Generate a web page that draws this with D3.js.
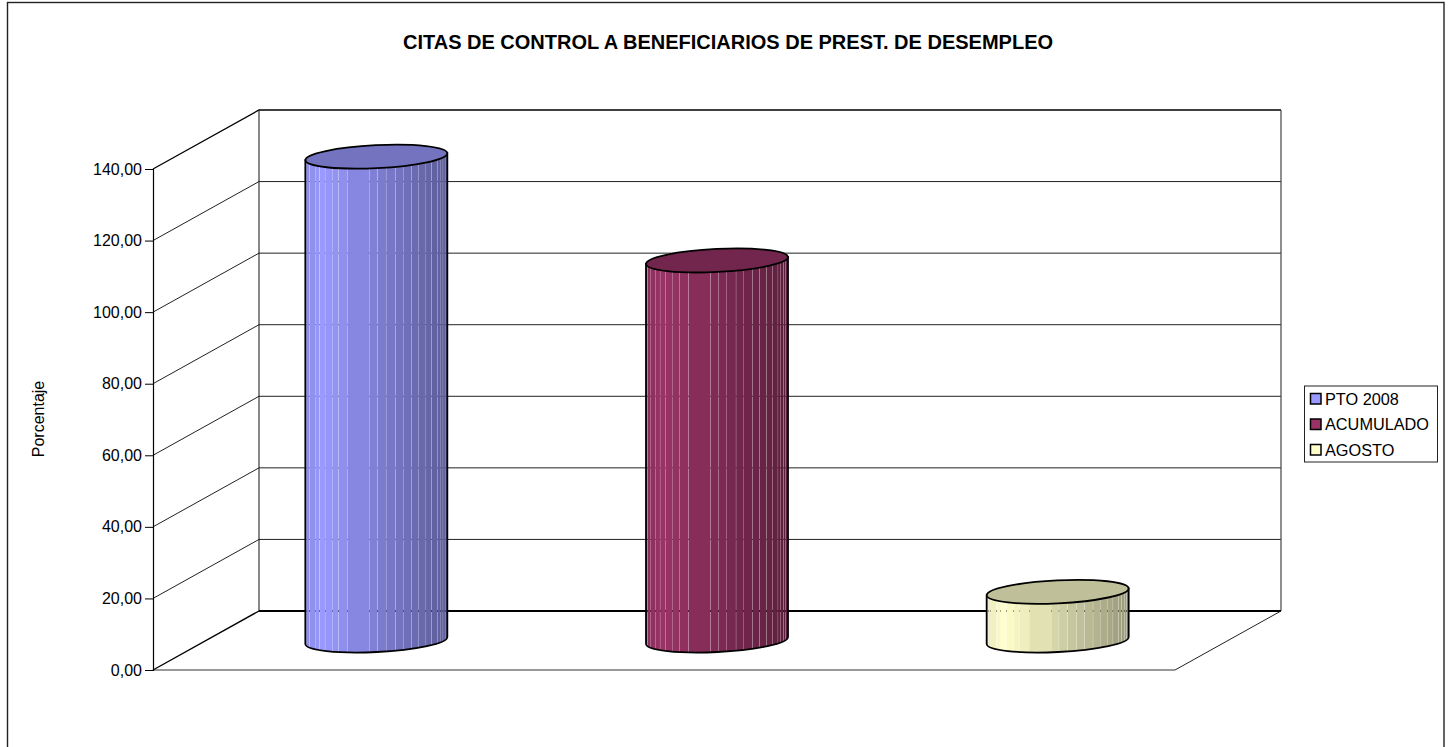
<!DOCTYPE html>
<html>
<head>
<meta charset="utf-8">
<script src="https://cdn.jsdelivr.net/npm/d3@7"></script>
<style>
  html, body { margin: 0; padding: 0; background: #fff; overflow: hidden; }
  svg { display: block; font-family: "Liberation Sans", Arial, sans-serif; }
</style>
</head>
<body>
<script>
const seriesNames = ["PTO 2008", "ACUMULADO", "AGOSTO"];
const seriesValues = [135.2, 106.2, 13.6];
const seriesColors = ["#9999ff", "#993366", "#ffffcc"];
const yTicks = [0, 20, 40, 60, 80, 100, 120, 140];
const titleText = "CITAS DE CONTROL A BENEFICIARIOS DE PREST. DE DESEMPLEO";
const yTitle = "Porcentaje";

// where the shading bands of a cylinder change, as a fraction of its width
const bandStops = [0, .012, .03, .07, .1, .14, .19, .235, .3, .455, .51, .57, .635, .69, .75, .8, .85, .89, .93, .95, .97, .985, 1];

const width = 1454, height = 747;
const plotLeft = 153, plotRight = 1175, plotBottom = 670, plotTop = 169;
const depthX = 106, depthY = -59;
const tilt = -2.8, cylinderWidth = 142, ellipseRy = 11.5;

const y = d3.scaleLinear().domain([0, 140]).range([plotBottom, plotTop]);
const x = d3.scaleBand().domain(seriesNames).range([plotLeft, plotRight]);
const shade = d3.scaleLinear().domain([0, .12, 1]).range([.9, 1, .6]);
const darken = (c, k) => {
  const r = d3.rgb(c);
  return d3.rgb(r.r * k, r.g * k, r.b * k).formatHex();
};

const svg = d3.select("body").append("svg").attr("width", width).attr("height", height);

// outer frame, its bottom edge falls outside the picture
svg.append("rect")
  .attr("x", 7.5).attr("y", 2.5)
  .attr("width", 1436.5).attr("height", height + 10)
  .attr("fill", "#fff").attr("stroke", "#222").attr("stroke-width", 1.4);

svg.append("text")
  .attr("x", 728).attr("y", 49)
  .attr("text-anchor", "middle")
  .attr("font-size", 20).attr("font-weight", "bold")
  .text(titleText);

/******************** Walls ********************/
const walls = svg.append("g").attr("fill", "none");

yTicks.slice(1).forEach((t) => {
  const top = t === 140;
  walls.append("path")
    .attr("d", d3.line()([
      [plotLeft, y(t)],
      [plotLeft + depthX, y(t) + depthY],
      [plotRight + depthX, y(t) + depthY],
    ]))
    .attr("stroke", top ? "#000" : "#222")
    .attr("stroke-width", top ? 1.3 : 1);
});

// left and right edges of the back wall
walls.append("line")
  .attr("x1", plotLeft + depthX).attr("x2", plotLeft + depthX)
  .attr("y1", y(140) + depthY).attr("y2", y(0) + depthY)
  .attr("stroke", "#111");
walls.append("line")
  .attr("x1", plotRight + depthX).attr("x2", plotRight + depthX)
  .attr("y1", y(140) + depthY).attr("y2", y(0) + depthY)
  .attr("stroke", "#444").attr("stroke-width", 1.2);

// floor
walls.append("line")
  .attr("x1", plotLeft + depthX).attr("x2", plotRight + depthX)
  .attr("y1", y(0) + depthY).attr("y2", y(0) + depthY)
  .attr("stroke", "#000").attr("stroke-width", 2);
walls.append("line")
  .attr("x1", plotLeft).attr("x2", plotLeft + depthX)
  .attr("y1", y(0)).attr("y2", y(0) + depthY)
  .attr("stroke", "#000").attr("stroke-width", 1.4);
walls.append("line")
  .attr("x1", plotRight).attr("x2", plotRight + depthX)
  .attr("y1", y(0)).attr("y2", y(0) + depthY)
  .attr("stroke", "#222");
walls.append("line")
  .attr("x1", plotLeft).attr("x2", plotRight)
  .attr("y1", y(0)).attr("y2", y(0))
  .attr("stroke", "#333").attr("stroke-width", 1.2);

/******************** Axis ********************/
const axis = svg.append("g")
  .attr("transform", `translate(${plotLeft},0)`)
  .call(d3.axisLeft(y).tickValues(yTicks).tickSize(8).tickPadding(3)
    .tickFormat((d) => d3.format(".2f")(d).replace(".", ",")));
axis.select(".domain").attr("stroke", "#000").attr("stroke-width", 1.2);
axis.selectAll("line").attr("stroke", "#000");
axis.selectAll("text")
  .attr("font-size", 16).attr("font-family", "Liberation Sans, Arial, sans-serif")
  .attr("fill", "#000");

svg.append("text")
  .attr("transform", "translate(44,419) rotate(-90)")
  .attr("text-anchor", "middle")
  .attr("font-size", 16)
  .text(yTitle);

/******************** Cylinders ********************/
const defs = svg.append("defs");
const cylinders = svg.selectAll("g.cylinder")
  .data(seriesNames.map((name, i) => ({ name, value: seriesValues[i], color: seriesColors[i], i })))
  .join("g")
  .attr("class", "cylinder");

cylinders.each(function (d) {
  const g = d3.select(this);
  const cx = x(d.name) + x.bandwidth() / 2 + depthX / 2;
  const rx = cylinderWidth / 2;
  const dy = Math.tan((tilt * Math.PI) / 180) * rx;
  const yBase = y(0) + depthY / 2;
  const yTop = y(d.value) + depthY / 2;
  const sidePath =
    `M${cx - rx},${yTop - dy} L${cx - rx},${yBase - dy} ` +
    `A${rx},${ellipseRy} ${tilt} 0 0 ${cx + rx},${yBase + dy} ` +
    `L${cx + rx},${yTop + dy} Z`;

  defs.append("clipPath").attr("id", "side-" + d.i).append("path").attr("d", sidePath);

  // bands have small gaps, the walls show through them like in the original
  const side = g.append("g").attr("clip-path", `url(#side-${d.i})`);
  side.selectAll("rect")
    .data(d3.pairs(bandStops))
    .join("rect")
    .attr("x", (s) => cx - rx + s[0] * cylinderWidth)
    .attr("width", (s) => (s[1] - s[0]) * cylinderWidth - 0.25)
    .attr("y", yTop + dy - 10)
    .attr("height", yBase - yTop + 40)
    .attr("fill", (s) => darken(d.color, shade((s[0] + s[1]) / 2)));

  g.append("path")
    .attr("d", sidePath)
    .attr("fill", "none").attr("stroke", "#000").attr("stroke-width", 1.8);

  g.append("ellipse")
    .attr("cx", cx).attr("cy", yTop)
    .attr("rx", rx).attr("ry", ellipseRy)
    .attr("transform", `rotate(${tilt} ${cx} ${yTop})`)
    .attr("fill", darken(d.color, .75))
    .attr("stroke", "#000").attr("stroke-width", 1.8);
});

/******************** Legend ********************/
const legend = svg.append("g");
legend.append("rect")
  .attr("x", 1304.5).attr("y", 386)
  .attr("width", 133).attr("height", 76)
  .attr("fill", "#fff").attr("stroke", "#222");

const legendY = d3.scalePoint().domain(seriesNames).range([399, 450]);
const rows = legend.selectAll("g.row")
  .data(seriesNames)
  .join("g")
  .attr("class", "row")
  .attr("transform", (d) => `translate(0,${legendY(d)})`);
rows.append("rect")
  .attr("x", 1310.5).attr("y", -5.5)
  .attr("width", 10.5).attr("height", 10.5)
  .attr("fill", (d, i) => seriesColors[i])
  .attr("stroke", "#000").attr("stroke-width", 1.5);
rows.append("text")
  .attr("x", 1325).attr("y", 5.5)
  .attr("font-size", 16.3)
  .text((d) => d);
</script>
</body>
</html>
